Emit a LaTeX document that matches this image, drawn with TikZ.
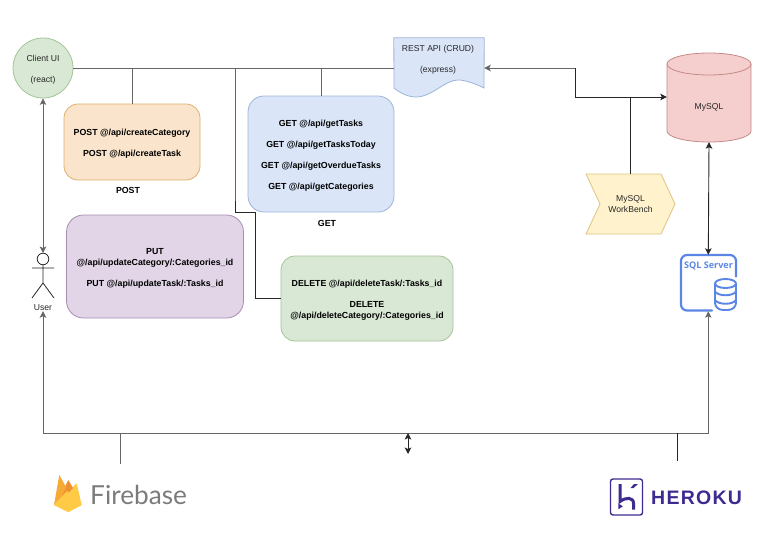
\documentclass[tikz,border=0pt]{standalone}
\usepackage{fontspec}
\setmainfont{Liberation Sans}
\newfontfamily\fbfont{Lato}
\newfontfamily\sqlfont{Open Sans}
\usetikzlibrary{arrows.meta}
\definecolor{orangeF}{HTML}{FAE5CC}\definecolor{orangeD}{HTML}{DDB06C}
\definecolor{blueF}{HTML}{DAE6F8}\definecolor{blueD}{HTML}{9DB4D6}
\definecolor{purpF}{HTML}{E1D5E7}\definecolor{purpD}{HTML}{A68DB2}
\definecolor{greenF}{HTML}{D9E8D5}\definecolor{greenD}{HTML}{A3C496}
\definecolor{redF}{HTML}{F5CFCD}\definecolor{redD}{HTML}{C48A87}
\definecolor{yelF}{HTML}{FFF2CC}\definecolor{yelD}{HTML}{DCC57F}
\definecolor{sqlblue}{HTML}{5C86E6}\definecolor{heroku}{HTML}{3F2A90}
\definecolor{fbgray}{HTML}{7B7B7B}
\newcommand\lowered{\rule{0pt}{10pt}}
\tikzset{
  txt/.style={font=\fontsize{8.6}{10.6}\selectfont,align=center,inner sep=0pt,text=black!85},
  boldtxt/.style={txt,font=\fontsize{8.8}{10.6}\selectfont\bfseries,text=black},
  apibox/.style={boldtxt,draw=#1D,fill=#1F,line width=.8pt,rounded corners=14pt},
  plainshape/.style={inner sep=0pt,minimum size=0pt},
  gl/.style={draw=black!60,line width=1pt},
  dl/.style={draw=black!85,line width=.9pt},
  tip/.style={-{Stealth[length=6.5pt,width=6.5pt,inset=1.5pt]}},
  twotip/.style={{Stealth[length=6.5pt,width=6.5pt,inset=1.5pt]}-{Stealth[length=6.5pt,width=6.5pt,inset=1.5pt]}},
}
\begin{document}
\begin{tikzpicture}[x=1pt,y=-1pt]
\useasboundingbox (0,0) rectangle (783,543);
% shapes
\node[txt,circle,draw=greenD,fill=greenF,line width=.8pt,minimum size=60pt] (client) at (43,68) {\lowered Client UI\\[10.6pt](react)};
\node[apibox=orange,minimum width=136pt,minimum height=76pt] (post) at (132,142) {\lowered POST @/api/createCategory\\[10.6pt]POST @/api/createTask};
\node[boldtxt] (postl) at (128,190.5) {POST};
\node[apibox=blue,rounded corners=16pt,minimum width=146pt,minimum height=116pt] (get) at (321,154) {\lowered GET @/api/getTasks\\[10.6pt]GET @/api/getTasksToday\\[10.6pt]GET @/api/getOverdueTasks\\[10.6pt]GET @/api/getCategories};
\node[boldtxt] (getl) at (327,223) {GET};
\node[apibox=purp,rounded corners=17pt,minimum width=177pt,minimum height=103pt] (put) at (155,266.5) {\lowered PUT\\@/api/updateCategory/:Categories\_id\\[10.6pt]PUT @/api/updateTask/:Tasks\_id};
\node[apibox=green,minimum width=172pt,minimum height=85pt] (del) at (367,298.5) {\lowered DELETE @/api/deleteTask/:Tasks\_id\\[10.6pt]DELETE\\@/api/deleteCategory/:Categories\_id};
% REST document
\node[plainshape,minimum width=90pt,minimum height=60pt] (rest) at (439,68) {};
\draw[blueD,fill=blueF,line width=.8pt] (rest.north west) -- (rest.north east) -- (484,88) .. controls (472,82) and (463,80) .. (458,80) .. controls (445,80) and (432,97) .. (416,97) .. controls (408,97) and (400,93) .. (394,88) -- cycle;
\node[txt] (restt) at (438,59.5) {REST API (CRUD)\\[10.6pt](express)};
% MySQL
\node[plainshape,minimum width=84pt,minimum height=90pt] (mysql) at (709,97) {};
\draw[redD,fill=redF,line width=.8pt] (667,64) -- (667,131) arc[x radius=42pt,y radius=11pt,start angle=180,end angle=360] -- (751,64) -- cycle;
\draw[redD,fill=redF,line width=.8pt] (709,64) ellipse[x radius=42pt,y radius=11pt];
\node[txt] at (709,107) {MySQL};
% Workbench
\node[plainshape,minimum width=89pt,minimum height=60pt] (bench) at (630.5,204) {};
\draw[yelD,fill=yelF,line width=.8pt] (586,174) -- (661,174) -- (675,204) -- (661,234) -- (586,234) -- (600,204) -- cycle;
\node[txt] at (630.5,204) {MySQL\\WorkBench};
% SQL Server
\node[plainshape,minimum width=56pt,minimum height=56pt] (sql) at (708.3,283) {};
\begin{scope}[sqlblue,line width=2.2pt]
\draw[line cap=round,rounded corners=6pt] (736,276.5) -- (736,255) -- (681,255) -- (681,310.5) -- (712,310.5);
\draw[fill=white,line width=1.9pt,rounded corners=3pt] (715,283) -- (715,306) -- (720,310) -- (731,310) -- (736,306) -- (736,283);
\draw[line width=1.9pt] (725.5,283.5) ellipse[x radius=10.5pt,y radius=4.5pt];
\draw[line width=1.9pt] (715,291.5) .. controls (718,296.5) and (733,296.5) .. (736,291.5);
\draw[line width=1.9pt] (715,300) .. controls (718,305) and (733,305) .. (736,300);
\end{scope}
\node[inner sep=0pt,text=sqlblue,font=\sqlfont\fontsize{9.1}{11}\selectfont\bfseries] (sqlt) at (708.5,266) {SQL Server};
% User
\coordinate (uhead) at (43,259);
\coordinate (utop) at (43,253);
\draw[dl,line width=.8pt] (uhead) circle[radius=5.8pt];
\draw[dl,line width=.8pt] (43,264.8) -- (43,283) (32,268) -- (54,268) (32,298) -- (43,283) -- (54,298);
\node[txt] (userl) at (43,308) {User};
% connectors
\coordinate (j1) at (132,68);
\coordinate (j2) at (235,68);
\coordinate (j3) at (321,68);
\coordinate (j4) at (235,212);
\coordinate (j4a) at (235,201);
\coordinate (j5) at (255,212);
\coordinate (j6) at (255,298.5);
\coordinate (r1) at (575,68);
\coordinate (r2) at (575,97);
\coordinate (r3) at (630.5,97);
\coordinate (busL) at (43,433);
\coordinate (busR) at (708.3,433);
\coordinate (fb) at (120.5,433);
\coordinate (fbe) at (120.5,464);
\coordinate (hk) at (677.5,433);
\coordinate (hke) at (677.5,461);
\coordinate (mid) at (408,433);
\coordinate (mide) at (408,454);
\draw[gl] (client.east) -- (rest.west);
\draw[gl] (j1) -- (post.north);
\draw[gl] (j2) -- (j4);
\draw[gl] (j3) -- (get.north);
\draw[dl] (j4a) -- (j4) -- (j5) -- (j6) -- (del.west);
\draw[gl,tip] (r1) -- (rest.east);
\draw[dl,tip] (r1) -- (r2) -- (mysql.west);
\draw[dl] (r3) -- (bench.north);
\draw[dl,twotip] (mysql.south) -- (sql.north);
\draw[gl,twotip] (client.south) -- (utop);
\draw[gl,twotip] (userl.south) -- (busL) -- (busR) -- (sql.south);
\draw[gl] (fb) -- (fbe);
\draw[dl] (hk) -- (hke);
\draw[dl,twotip] (mid) -- (mide);
% Firebase logo
\definecolor{fbY}{HTML}{FFCB47}\definecolor{fbO}{HTML}{F7A935}\definecolor{fbD}{HTML}{F09030}
\fill[fbY] (54,505) -- (76.7,483.3) -- (81.7,505) -- (68.3,512) -- cycle;
\fill[fbD] (60,497) -- (68.3,480) -- (73,488) -- (58,503) -- cycle;
\fill[fbO] (54,505) -- (59.3,475) -- (66,487) -- (61,498) -- cycle;
\fill[fbY] (54,505) -- (67,491) -- (81.7,505) -- (68.3,512) -- cycle;
\node[inner sep=0pt,anchor=west,text=fbgray,font=\fbfont\fontsize{26.2}{28}\selectfont] (fbt) at (90,494.5) {Firebase};
% Heroku logo
\draw[heroku,line width=1.4pt,rounded corners=2.5pt] (610.5,479) rectangle (642.5,515);
\draw[heroku,line width=3pt] (620,484) -- (620,501.5) .. controls (626,497) and (633.5,497) .. (633.5,503.5) -- (633.5,509.5);
\fill[heroku] (630.5,488) -- (634,484) -- (638,484) -- (633.5,488) -- cycle;
\fill[heroku] (618.3,503.3) -- (622.8,506.3) -- (618.3,509.3) -- cycle;
\node[inner sep=0pt,anchor=west,text=heroku,font=\fontsize{19.5}{20}\selectfont\bfseries\addfontfeature{LetterSpace=6.5}] (hkt) at (651,497.5) {HEROKU};
\end{tikzpicture}
\end{document}
